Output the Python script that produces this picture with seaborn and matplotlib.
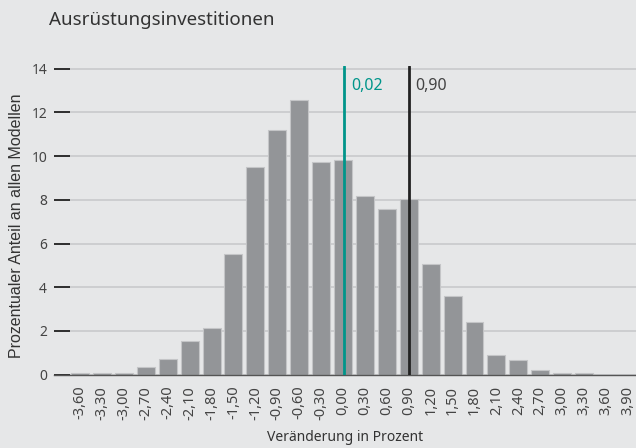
import matplotlib
matplotlib.use("Agg")
import matplotlib.pyplot as plt
import numpy as np
import pandas as pd
import seaborn as sns

# bins (Veränderung in Prozent) and share of models
bins = [-3.6, -3.3, -3.0, -2.7, -2.4, -2.1, -1.8, -1.5, -1.2, -0.9, -0.6, -0.3, 0.0,
        0.3, 0.6, 0.9, 1.2, 1.5, 1.8, 2.1, 2.4, 2.7, 3.0, 3.3, 3.6, 3.9]
shares = [0.08, 0.08, 0.08, 0.35, 0.73, 1.55, 2.12, 5.5, 9.5, 11.2, 12.55, 9.75, 9.82,
          8.18, 7.6, 8.03, 5.05, 3.59, 2.4, 0.92, 0.66, 0.21, 0.08, 0.08, 0.0, 0.0]
mean_value = 0.02
current_value = 0.90

labels = [f"{b:.2f}".replace(".", ",") for b in bins]
df = pd.DataFrame({"bin": labels, "share": shares})

bg = "#e6e7e8"
bar_color = "#939598"
teal = "#00958a"
dark = "#222222"

sns.set_theme(style="white")
plt.rcParams["font.family"] = ["Noto Sans", "DejaVu Sans"]

fig = plt.figure(figsize=(6.36, 4.48), dpi=100, facecolor=bg)
ax = fig.add_axes([54 / 636, 1 - 374.7 / 448, 1 - 54 / 636, (374.7 - 66.5) / 448])
ax.set_facecolor(bg)

sns.barplot(data=df, x="bin", y="share", color=bar_color, saturation=1,
            width=0.82, edgecolor="#c4c5c7", linewidth=0.8, ax=ax, zorder=2)

ax.set_xlim(-1.19, 25.37)
ax.set_ylim(0, 14.1)
ax.set_yticks(range(0, 15, 2))
ax.grid(axis="y", color="#c9cacc", linewidth=1.2, zorder=0)
ax.set_axisbelow(True)

for s in ["top", "right", "left"]:
    ax.spines[s].set_visible(False)
ax.spines["bottom"].set_color("#555555")
ax.spines["bottom"].set_linewidth(1.0)

ax.tick_params(axis="y", left=True, direction="in", length=11.5, width=1.3,
               color="#222222", labelsize=10, labelcolor="#444444", pad=5)
ax.tick_params(axis="x", bottom=False, length=0, labelsize=10.5, labelcolor="#444444", pad=8)
plt.setp(ax.get_xticklabels(), rotation=90)
for t in ax.yaxis.get_major_ticks():
    t.tick1line.set_zorder(5)

# vertical markers at continuous positions on the category axis
step = bins[1] - bins[0]
pos_mean = (mean_value - bins[0]) / step
pos_cur = (current_value - bins[0]) / step
ax.axvline(pos_mean, color=teal, linewidth=2, zorder=3)
ax.axvline(pos_cur, color=dark, linewidth=2, zorder=3)
ax.text(pos_mean + 0.3, 13.2, f"{mean_value:.2f}".replace(".", ","), color=teal,
        fontsize=11.5, va="center", ha="left")
ax.text(pos_cur + 0.3, 13.2, f"{current_value:.2f}".replace(".", ","), color="#444444",
        fontsize=11.5, va="center", ha="left")

ax.set_xlabel("")
fig.text(345 / 636, 1 - 437 / 448, "Veränderung in Prozent", fontsize=10,
         color="#333333", va="center", ha="center")
ax.set_ylabel("")
fig.text(17 / 636, 1 - 226 / 448, "Prozentualer Anteil an allen Modellen", fontsize=11.5,
         color="#333333", rotation=90, va="center", ha="center",
         family=["Liberation Sans", "DejaVu Sans"])

fig.text(49 / 636, 1 - 20 / 448, "Ausrüstungsinvestitionen", fontsize=13.5,
         color="#333333", va="center", ha="left")

fig.savefig("out.png", dpi=100, facecolor=bg)
